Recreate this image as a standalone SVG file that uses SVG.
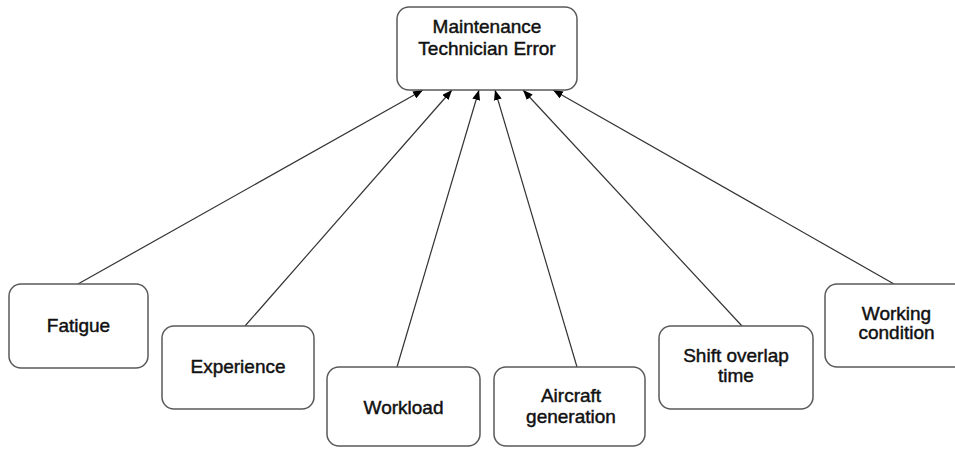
<svg xmlns="http://www.w3.org/2000/svg" width="955" height="451" viewBox="0 0 955 451">
<style>
.box{fill:#fff;stroke:#5a5a5a;stroke-width:1.5}
.lbl{font-family:"Liberation Sans",Arial,sans-serif;font-size:19px;fill:#111;stroke:#111;stroke-width:0.45;text-anchor:middle}
.conn{stroke:#333;stroke-width:1.2;fill:none;marker-end:url(#arr)}
</style>
<defs>
<marker id="arr" viewBox="0 0 10 8" refX="10" refY="4" markerWidth="10" markerHeight="8" markerUnits="userSpaceOnUse" orient="auto">
<path d="M0,0 L10,4 L0,8 z" fill="#000"/>
</marker>
</defs>
<rect width="955" height="451" fill="#fff"/>
<g id="connectors">
<line class="conn" x1="78" y1="284" x2="423" y2="90"/>
<line class="conn" x1="245" y1="326" x2="452" y2="90"/>
<line class="conn" x1="397" y1="367" x2="479" y2="90"/>
<line class="conn" x1="577" y1="367" x2="495" y2="90"/>
<line class="conn" x1="742" y1="326" x2="523" y2="90"/>
<line class="conn" x1="894" y1="284" x2="553" y2="90"/>
</g>
<g id="n-error">
<rect class="box" x="397" y="7" width="180" height="83" rx="12"/>
<text class="lbl" x="487" y="33">Maintenance</text>
<text class="lbl" x="487" y="55">Technician Error</text>
</g>
<g id="n-fatigue">
<rect class="box" x="9" y="284" width="139" height="84" rx="12"/>
<text class="lbl" x="78.5" y="332">Fatigue</text>
</g>
<g id="n-experience">
<rect class="box" x="162" y="326" width="152" height="83" rx="12"/>
<text class="lbl" x="238" y="373">Experience</text>
</g>
<g id="n-workload">
<rect class="box" x="327" y="367" width="153" height="79" rx="12"/>
<text class="lbl" x="403.5" y="414">Workload</text>
</g>
<g id="n-aircraft">
<rect class="box" x="494" y="367" width="151" height="79" rx="12"/>
<text class="lbl" x="571" y="402">Aircraft</text>
<text class="lbl" x="571" y="423">generation</text>
</g>
<g id="n-shift">
<rect class="box" x="659" y="326" width="154" height="83" rx="12"/>
<text class="lbl" x="736" y="362">Shift overlap</text>
<text class="lbl" x="736" y="382">time</text>
</g>
<g id="n-working">
<rect class="box" x="825" y="284" width="143" height="83" rx="12"/>
<text class="lbl" x="896.5" y="320">Working</text>
<text class="lbl" x="896.5" y="339">condition</text>
</g>
</svg>
